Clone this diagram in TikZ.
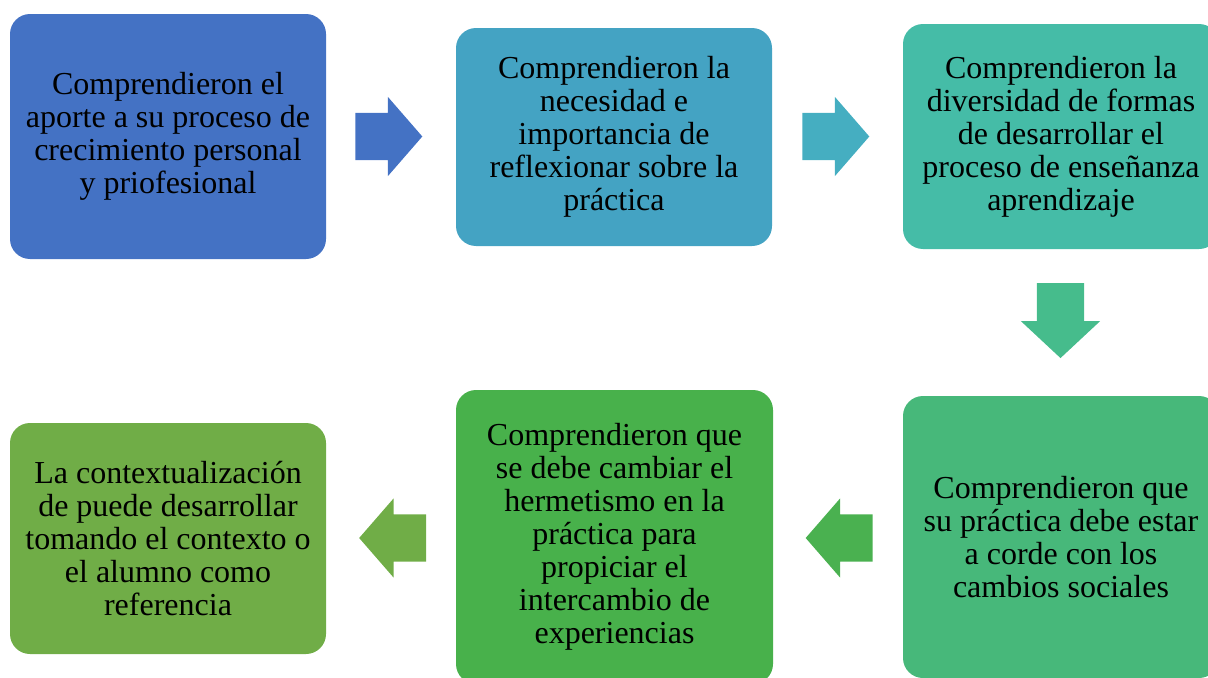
\documentclass[tikz,border=0pt]{standalone}
\usepackage{fontspec}
\setmainfont{Liberation Serif}
\usetikzlibrary{shapes,arrows,positioning}

\definecolor{paso1}{HTML}{4472C4}
\definecolor{paso2}{HTML}{44A3C3}
\definecolor{paso3}{HTML}{45BCA7}
\definecolor{paso4}{HTML}{47B87A}
\definecolor{paso5}{HTML}{48B14B}
\definecolor{paso6}{HTML}{70AD47}
\definecolor{flecha2}{HTML}{45AEC1}
\definecolor{flecha3}{HTML}{46BC8C}
\definecolor{flecha4}{HTML}{4AB150}

\begin{document}
\begin{tikzpicture}[x=0.75pt,y=-0.75pt,inner sep=0mm,
	caja/.style={rounded corners=15pt,align=center,text=black,minimum width=237pt,
		font=\fontsize{24}{24.75}\selectfont},
	flecha/.style={single arrow,single arrow head extend=12pt,inner xsep=0pt,
		inner ysep=17.6pt,single arrow tip angle=98}]
	\clip (0,0) rectangle (1208,678);
	\coordinate (A) at (168,136.5);
	\coordinate (B) at (614,137);
	\coordinate (C) at (1061,136.5);
	\coordinate (D) at (1061,537);
	\coordinate (E) at (614.5,537);
	\coordinate (F) at (168,538.5);

	\node [caja,fill=paso1,minimum height=183.75pt] (P1) at (A) {Comprendieron el\\aporte a su proceso de\\crecimiento personal\\y priofesional};
	\node [caja,fill=paso2,minimum height=163.5pt] (P2) at (B) {Comprendieron la\\necesidad e\\importancia de\\reflexionar sobre la\\práctica};
	\node [caja,fill=paso3,minimum height=168.75pt] (P3) at (C) {Comprendieron la\\diversidad de formas\\de desarrollar el\\proceso de enseñanza\\aprendizaje};
	\node [caja,fill=paso4,minimum height=211.5pt] (P4) at (D) {Comprendieron que\\su práctica debe estar\\a corde con los\\cambios sociales};
	\node [caja,fill=paso5,minimum height=220.5pt,minimum width=237.75pt] (P5) at (E) {Comprendieron que\\se debe cambiar el\\hermetismo en la\\práctica para\\propiciar el\\intercambio de\\experiencias};
	\node [caja,fill=paso6,minimum height=173.25pt] (P6) at (F) {La contextualización\\de puede desarrollar\\tomando el contexto o\\el alumno como\\referencia};

	% flechas entre pasos
	\node [flecha,fill=paso1,minimum height=50.25pt] (F12) at (378.5,136.5) {};
	\node [flecha,fill=flecha2,minimum height=50.25pt] (F23) at (825.5,136.5) {};
	\node [flecha,fill=flecha3,minimum height=56.25pt,single arrow tip angle=94,rotate=-90] (F34) at (1060.5,309.5) {};
	\node [flecha,fill=flecha4,minimum height=50.25pt,rotate=180] (F45) at (849.5,538) {};
	\node [flecha,fill=paso6,minimum height=50.25pt,rotate=180] (F56) at (403,538) {};

\end{tikzpicture}
\end{document}
